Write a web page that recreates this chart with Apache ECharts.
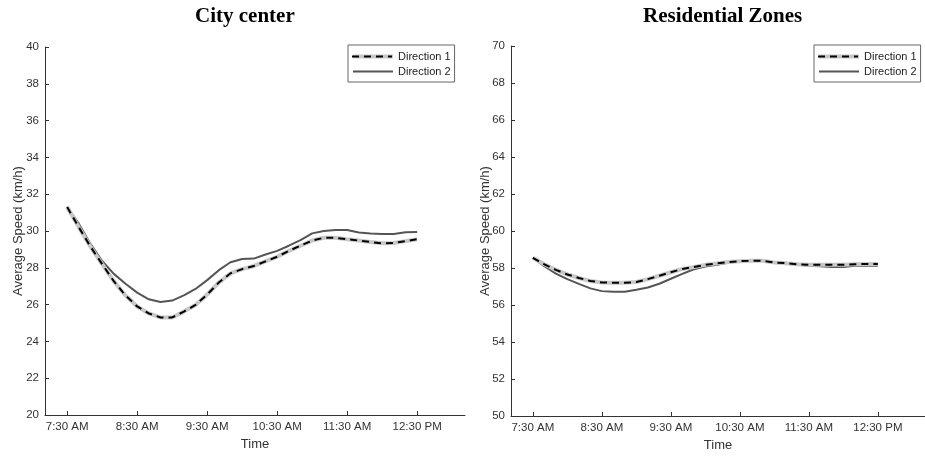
<!DOCTYPE html>
<html>
<head>
<meta charset="utf-8">
<script src="https://cdn.jsdelivr.net/npm/echarts@6/dist/echarts.min.js"></script>
<style>
html,body{margin:0;padding:0;background:#fff;}
#chart{width:925px;height:457px;}
</style>
</head>
<body>
<div id="chart"></div>
<script>
// ---- data ----
const minutes = [0,10,20,30,40,50,60,70,80,90,100,110,120,130,140,150,160,170,180,190,200,210,220,230,240,250,260,270,280,290,300];
const tickMinutes = [0,60,120,180,240,300];
const tickLabels = ['7:30 AM','8:30 AM','9:30 AM','10:30 AM','11:30 AM','12:30 PM'];
const titles = ['City center','Residential Zones'];
const legendNames = ['Direction 1','Direction 2'];

const cityDir1 = [31.3,30.2,29.15,28.2,27.27,26.5,25.9,25.52,25.3,25.3,25.62,25.98,26.55,27.2,27.7,27.93,28.1,28.35,28.6,28.92,29.2,29.48,29.63,29.63,29.55,29.48,29.4,29.33,29.35,29.45,29.55];
const cityDir2 = [31.3,30.4,29.3,28.37,27.67,27.13,26.65,26.29,26.14,26.22,26.5,26.85,27.33,27.87,28.3,28.48,28.5,28.72,28.92,29.2,29.5,29.87,30.0,30.05,30.05,29.92,29.87,29.84,29.84,29.93,29.95];
const resDir1 = [58.55,58.2,57.9,57.65,57.46,57.3,57.22,57.2,57.2,57.24,57.4,57.58,57.77,57.95,58.05,58.17,58.25,58.32,58.37,58.39,58.39,58.3,58.26,58.2,58.18,58.18,58.18,58.18,58.2,58.22,58.22];
const resDir2 = [58.55,58.1,57.7,57.4,57.14,56.9,56.75,56.72,56.72,56.83,56.95,57.15,57.42,57.68,57.93,58.08,58.18,58.28,58.35,58.38,58.38,58.28,58.24,58.18,58.12,58.1,58.05,58.05,58.12,58.12,58.12];

const yRanges = [[20,40],[50,70]];

// ---- build ----
const pair = arr => minutes.map((m,i)=>[m,arr[i]]);
const axisColor = '#333';
const labelColor = '#333';
const sans = 'Liberation Sans, Arial, sans-serif';

const grids = [
  {left:45, top:47, width:420, height:368},
  {left:511, top:46, width:419, height:370}
];

function xAxisFor(i){
  return {
    gridIndex:i, type:'value', min:-19, max:341,
    name:'Time', nameLocation:'middle', nameGap:23, nameMoveOverlap:false,
    nameTextStyle:{fontFamily:sans, fontSize:13, color:labelColor},
    axisLine:{onZero:false, lineStyle:{color:axisColor, width:1}},
    axisTick:{inside:true, length:4, customValues:tickMinutes, lineStyle:{color:axisColor}},
    axisLabel:{customValues:tickMinutes, margin:6, fontFamily:sans, fontSize:11.5, color:labelColor,
      formatter:v=>tickLabels[tickMinutes.indexOf(v)]},
    splitLine:{show:false}
  };
}
function yAxisFor(i, gap){
  return {
    gridIndex:i, type:'value', min:yRanges[i][0], max:yRanges[i][1], interval:2,
    name:'Average Speed (km/h)', nameLocation:'middle', nameGap:gap, nameMoveOverlap:false,
    nameTextStyle:{fontFamily:sans, fontSize:13, color:labelColor},
    axisLine:{show:true, onZero:false, lineStyle:{color:axisColor, width:1}},
    axisTick:{show:true, inside:true, length:4, lineStyle:{color:axisColor}},
    axisLabel:{margin:6, fontFamily:sans, fontSize:11.5, color:labelColor},
    splitLine:{show:false}
  };
}

const bgStyle = {color:'#c8c8c8', width:4};
const dashStyle = {color:'#000', width:2, type:[7,5]};
const solidStyle = {color:'#555', width:2};

function seriesFor(i, d1, d2){
  const common = {type:'line', xAxisIndex:i, yAxisIndex:i, symbol:'none', showSymbol:false, silent:true, animation:false};
  return [
    Object.assign({}, common, {name:legendNames[1], data:pair(d2), lineStyle:solidStyle, z:2}),
    Object.assign({}, common, {name:legendNames[0], data:pair(d1), lineStyle:bgStyle, z:3}),
    Object.assign({}, common, {name:legendNames[0]+' dashes', data:pair(d1), lineStyle:dashStyle, z:4})
  ];
}

function legendsFor(left){
  const base = {left:left, top:45, orient:'vertical', padding:[6,4,5,3], itemGap:4,
    itemWidth:40, itemHeight:12, selectedMode:false, lineStyle:{width:'inherit'},
    itemStyle:{opacity:0, borderWidth:0},
    textStyle:{fontFamily:sans, fontSize:11, color:'#222'}};
  return [
    Object.assign({}, base, {data:legendNames, borderColor:'#666', borderWidth:1, backgroundColor:'#fff', z:5}),
    Object.assign({}, base, {data:[legendNames[0]+' dashes'], formatter:()=>legendNames[0],
      textStyle:{fontFamily:sans, fontSize:11, color:'rgba(0,0,0,0)'}, z:6})
  ];
}

const titleStyle = {fontFamily:'Liberation Serif, Times New Roman, serif', fontWeight:'bold', fontSize:21, color:'#000'};

const option = {
  backgroundColor:'#fff',
  animation:false,
  title:[
    {text:titles[0], left:195, top:6, padding:0, textStyle:titleStyle},
    {text:titles[1], left:643, top:6, padding:0, textStyle:titleStyle}
  ],
  grid:grids,
  xAxis:[xAxisFor(0), xAxisFor(1)],
  yAxis:[yAxisFor(0,20), yAxisFor(1,19)],
  legend:[...legendsFor(348), ...legendsFor(814)],
  series:[...seriesFor(0, cityDir1, cityDir2), ...seriesFor(1, resDir1, resDir2)]
};

const chart = echarts.init(document.getElementById('chart'), null, {renderer:'canvas'});
chart.setOption(option);
</script>
</body>
</html>
